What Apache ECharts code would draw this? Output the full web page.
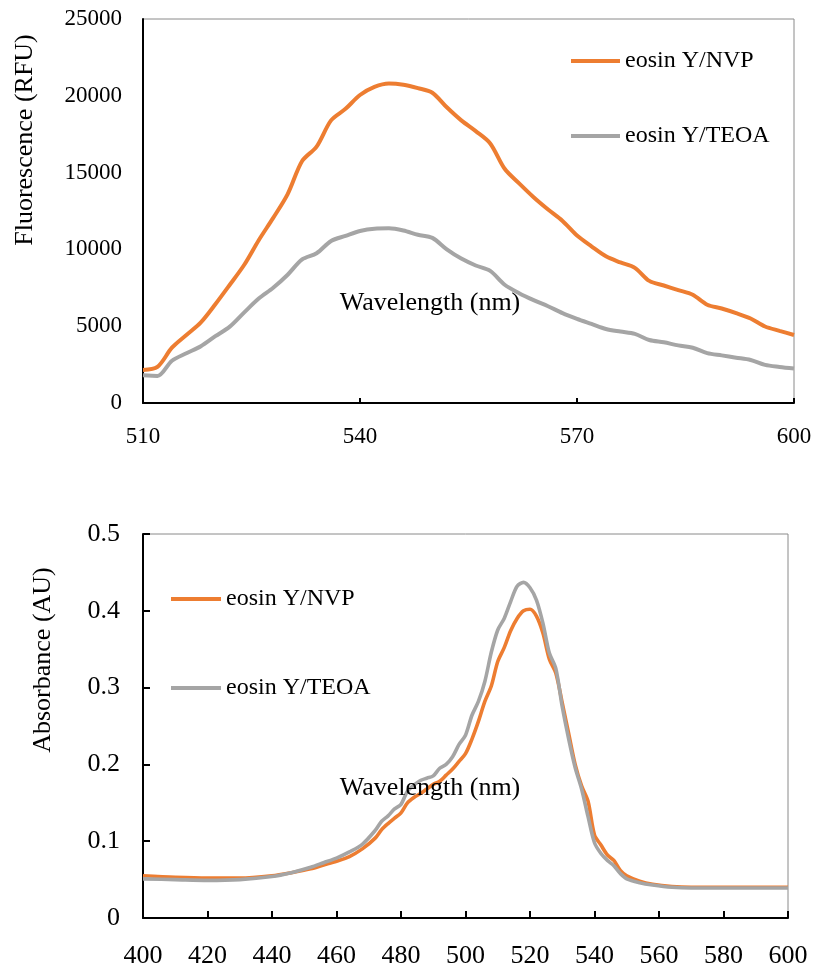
<!DOCTYPE html>
<html>
<head>
<meta charset="utf-8">
<script src="https://cdn.jsdelivr.net/npm/echarts@6/dist/echarts.min.js"></script>
<style>html,body{margin:0;padding:0;background:#fff;}#c{width:815px;height:970px;}</style>
</head>
<body>
<div id="c"></div>
<script>
// ---- Fluorescence (top) ----
const fluoWavelength = [510,512,514,516,518,520,522,524,526,528,530,532,534,536,538,540,542,544,546,548,550,552,554,556,558,560,562,564,566,568,570,572,574,576,578,580,582,584,586,588,590,592,594,596,598,600];
const fluoNVP = [2150,2350,3600,4430,5250,6430,7700,9000,10600,12050,13600,15750,16690,18400,19150,20050,20580,20800,20720,20500,20200,19250,18400,17700,16900,15250,14300,13400,12600,11850,10900,10200,9550,9150,8800,7950,7650,7350,7050,6400,6150,5850,5500,4980,4700,4430];
const fluoTEOA = [1800,1760,2750,3240,3700,4350,4970,5900,6800,7500,8350,9350,9750,10550,10880,11200,11350,11370,11230,10950,10750,10000,9400,8950,8600,7700,7150,6700,6300,5850,5480,5150,4820,4650,4500,4100,3950,3750,3600,3250,3100,2950,2800,2480,2350,2250];

// ---- Absorbance (bottom) ----
const absWavelength = [400,410,420,430,440,446,452,456,460,464,468,472,474,476,478,480,482,484,486,488,490,492,494,496,498,500,502,504,506,508,510,512,514,516,518,520,522,524,526,528,530,532,534,536,538,540,542,544,546,548,550,554,558,564,570,580,590,600];
const absNVP = [0.055,0.053,0.052,0.052,0.055,0.059,0.064,0.069,0.074,0.080,0.090,0.104,0.115,0.123,0.130,0.137,0.150,0.157,0.162,0.168,0.174,0.178,0.186,0.194,0.204,0.214,0.233,0.256,0.282,0.302,0.334,0.352,0.374,0.390,0.400,0.402,0.393,0.371,0.337,0.319,0.280,0.240,0.200,0.172,0.152,0.108,0.095,0.082,0.075,0.062,0.055,0.048,0.044,0.041,0.040,0.040,0.040,0.040];
const absTEOA = [0.051,0.050,0.049,0.050,0.054,0.059,0.066,0.072,0.078,0.086,0.096,0.114,0.126,0.133,0.142,0.148,0.165,0.173,0.179,0.182,0.185,0.195,0.200,0.210,0.226,0.238,0.264,0.282,0.308,0.346,0.375,0.390,0.412,0.432,0.437,0.430,0.414,0.384,0.345,0.325,0.275,0.233,0.196,0.168,0.132,0.098,0.084,0.075,0.068,0.058,0.051,0.046,0.043,0.040,0.039,0.039,0.039,0.039];

const seriesNames = ['eosin Y/NVP', 'eosin Y/TEOA'];
const topTitleY = 'Fluorescence (RFU)';
const bottomTitleY = 'Absorbance (AU)';
const titleX = 'Wavelength (nm)';

const FONT = "'Liberation Serif','Times New Roman',serif";
const ORANGE = '#ED7D31', GRAY = '#A5A5A5';
const pairs = (xs, ys) => xs.map((x, i) => [x, ys[i]]);

const chart = echarts.init(document.getElementById('c'), null, {renderer: 'canvas'});
chart.setOption({
  backgroundColor: '#fff',
  animation: false,
  grid: [
    {left: 143, top: 19, width: 651, height: 384, show: true, borderColor: '#8a8a8a', borderWidth: 1, backgroundColor: 'transparent'},
    {left: 143, top: 534, width: 645, height: 384, show: true, borderColor: '#8a8a8a', borderWidth: 1, backgroundColor: 'transparent'}
  ],
  xAxis: [
    {gridIndex: 0, type: 'value', min: 510, max: 600, interval: 30,
     axisLine: {show: true, onZero: false, lineStyle: {color: '#000', width: 2}},
     axisTick: {show: true, inside: true, length: 5, lineStyle: {color: '#000', width: 2}},
     axisLabel: {color: '#000', fontFamily: FONT, fontSize: 23, margin: 22},
     splitLine: {show: false}},
    {gridIndex: 1, type: 'value', min: 400, max: 600, interval: 20,
     axisLine: {show: true, onZero: false, lineStyle: {color: '#000', width: 2}},
     axisTick: {show: true, inside: true, length: 7, lineStyle: {color: '#000', width: 2}},
     axisLabel: {color: '#000', fontFamily: FONT, fontSize: 26, margin: 25},
     splitLine: {show: false}}
  ],
  yAxis: [
    {gridIndex: 0, type: 'value', min: 0, max: 25000, interval: 5000,
     axisLine: {show: true, lineStyle: {color: '#000', width: 2}},
     axisTick: {show: false},
     axisLabel: {color: '#000', fontFamily: FONT, fontSize: 23, margin: 21, formatter: v => String(v)},
     splitLine: {show: false}},
    {gridIndex: 1, type: 'value', min: 0, max: 0.5, interval: 0.1,
     axisLine: {show: true, lineStyle: {color: '#000', width: 2}},
     axisTick: {show: true, inside: true, length: 7, lineStyle: {color: '#000', width: 2}},
     axisLabel: {color: '#000', fontFamily: FONT, fontSize: 26, margin: 23},
     splitLine: {show: false}}
  ],
  legend: [
    {orient: 'vertical', left: 571, top: 49, padding: 0, itemWidth: 49, itemHeight: 4, itemGap: 51, icon: 'rect',
     textStyle: {color: '#000', fontFamily: FONT, fontSize: 24},
     data: seriesNames, selectedMode: false},
    {orient: 'vertical', left: 171, top: 587, padding: 0, itemWidth: 50, itemHeight: 4, itemGap: 65, icon: 'rect',
     textStyle: {color: '#000', fontFamily: FONT, fontSize: 24},
     data: seriesNames, selectedMode: false}
  ],
  series: [
    {name: seriesNames[0], type: 'line', xAxisIndex: 0, yAxisIndex: 0, data: pairs(fluoWavelength, fluoNVP),
     showSymbol: false, symbol: 'none', smooth: 0.3, color: ORANGE, lineStyle: {color: ORANGE, width: 4}, z: 3},
    {name: seriesNames[1], type: 'line', xAxisIndex: 0, yAxisIndex: 0, data: pairs(fluoWavelength, fluoTEOA),
     showSymbol: false, symbol: 'none', smooth: 0.3, color: GRAY, lineStyle: {color: GRAY, width: 4}, z: 3},
    {name: seriesNames[0], type: 'line', xAxisIndex: 1, yAxisIndex: 1, data: pairs(absWavelength, absNVP),
     showSymbol: false, symbol: 'none', smooth: 0.3, color: ORANGE, lineStyle: {color: ORANGE, width: 3.6}, z: 3},
    {name: seriesNames[1], type: 'line', xAxisIndex: 1, yAxisIndex: 1, data: pairs(absWavelength, absTEOA),
     showSymbol: false, symbol: 'none', smooth: 0.3, color: GRAY, lineStyle: {color: GRAY, width: 3.6}, z: 4}
  ],
  graphic: [
    {type: 'text', x: 25, y: 140, rotation: Math.PI / 2,
     style: {text: topTitleY, font: "26px " + FONT, fill: '#000', align: 'center', verticalAlign: 'middle', textAlign: 'center', textVerticalAlign: 'middle'}},
    {type: 'text', x: 43, y: 660, rotation: Math.PI / 2,
     style: {text: bottomTitleY, font: "26px " + FONT, fill: '#000', align: 'center', verticalAlign: 'middle', textAlign: 'center', textVerticalAlign: 'middle'}},
    {type: 'text', x: 430, y: 303, z: 10,
     style: {text: titleX, font: "26px " + FONT, fill: '#000', align: 'center', verticalAlign: 'middle', textAlign: 'center', textVerticalAlign: 'middle'}},
    {type: 'text', x: 430, y: 788, z: 10,
     style: {text: titleX, font: "26px " + FONT, fill: '#000', align: 'center', verticalAlign: 'middle', textAlign: 'center', textVerticalAlign: 'middle'}}
  ]
});
</script>
</body>
</html>
